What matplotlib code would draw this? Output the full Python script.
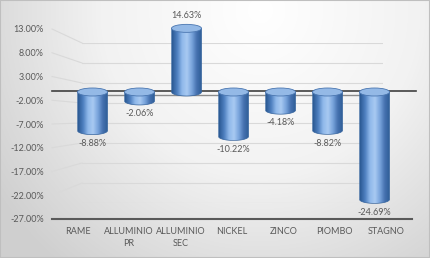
import numpy as np
import matplotlib.pyplot as plt
from matplotlib.patches import Ellipse, PathPatch, Rectangle
from matplotlib.path import Path
from matplotlib.colors import LinearSegmentedColormap

plt.rcParams['font.family'] = ['Lato', 'DejaVu Sans']

categories = ["RAME", "ALLUMINIO\nPR", "ALLUMINIO\nSEC", "NICKEL", "ZINCO", "PIOMBO", "STAGNO"]
values = [-8.88, -2.06, 14.63, -10.22, -4.18, -8.82, -24.69]
ticks = [13, 8, 3, -2, -7, -12, -17, -22, -27]

W, H = 430, 258
TXT = '#595959'
FS = 6.5
fig = plt.figure(figsize=(W / 100, H / 100), dpi=100)


def box(x0, y0, x1, y1):
    # pixel box (top-down y) -> figure fraction rect
    return [x0 / W, 1 - y1 / H, (x1 - x0) / W, (y1 - y0) / H]


# background gradient
bg = fig.add_axes([0, 0, 1, 1])
yy, xx = np.mgrid[0:H, 0:W]
r = np.hypot((xx - 260) / 320, (yy - 10) / 330)
bg_cmap = LinearSegmentedColormap.from_list('bg', ['#ffffff', '#f2f2f2', '#cfcfcf'])
bg.imshow(r, cmap=bg_cmap, vmin=0, vmax=1, aspect='auto')
bg.axis('off')
fig.patches.append(Rectangle((0, 0), 1, 1, transform=fig.transFigure, fill=False,
                             edgecolor='#bfbfbf', lw=1.5))

# back wall gridlines
back = fig.add_axes(box(82, 43, 383, 203))
back.set_xlim(0, 1)
back.set_ylim(-27, 13)
back.axis('off')
for t in ticks:
    back.axhline(t, color='#d9d9d9', lw=0.8)
back.axhline(0, color='#8c8c8c', lw=1.0)

# front plane: axis labels, floor, zero line
front = fig.add_axes(box(52, 29, 412, 219))
front.patch.set_visible(False)
front.set_xlim(-0.5, 6.5)
front.set_ylim(-27, 13)
front.set_yticks(ticks)
front.set_yticklabels([f"{t:.2f}%" for t in ticks])
front.set_xticks(range(len(categories)))
front.set_xticklabels(categories, linespacing=1.45)
front.tick_params(length=0, labelsize=FS, labelcolor=TXT, pad=6)
front.tick_params(axis='x', pad=6)
for s in ['top', 'right', 'left']:
    front.spines[s].set_visible(False)
front.spines['bottom'].set_color('#595959')
front.spines['bottom'].set_linewidth(1.5)
front.axhline(0, color='#404040', lw=1.2, xmax=1.01, clip_on=False)

# perspective connectors between front plane and back wall (drawn under everything)
inv = bg.transData.inverted()
for t in ticks[:-1]:
    p0 = inv.transform(front.transData.transform((-0.5, t)))
    p1 = inv.transform(back.transData.transform((0, t)))
    bg.plot([p0[0], p1[0]], [p0[1], p1[1]], color='#d9d9d9', lw=0.8)
bg.set_xlim(-0.5, W - 0.5)
bg.set_ylim(H - 0.5, -0.5)

# cylinders
ax = fig.add_axes([0, 0, 1, 1])
ax.patch.set_visible(False)
ax.axis('off')
px_x, zero_x = 47.0, 92.5
px_y, zero_y = 4.35, 92.0
w = 15 / px_x
e = 4 / px_y
body_cmap = LinearSegmentedColormap.from_list(
    'cyl', ['#2b5a94', '#4f80c0', '#8fb8ea', '#a9caf2', '#79a4dc', '#4672b0', '#2e5d96'])
grad = np.linspace(0, 1, 64).reshape(1, -1)

for i, v in enumerate(values):
    top, bot = max(v, 0), min(v, 0)
    th = np.linspace(np.pi, 2 * np.pi, 40)
    xs = np.concatenate([[i - w], i + w * np.cos(th), [i + w]])
    ys = np.concatenate([[top], bot + e * np.sin(th), [top]])
    verts = np.column_stack([xs, ys])
    verts = np.vstack([verts, verts[:1]])
    codes = [Path.MOVETO] + [Path.LINETO] * (len(verts) - 2) + [Path.CLOSEPOLY]
    body = PathPatch(Path(verts, codes), facecolor='none', edgecolor='#35649e', lw=0.5, zorder=3)
    ax.add_patch(body)
    im = ax.imshow(grad, cmap=body_cmap, aspect='auto', extent=(i - w, i + w, bot - e, top),
                   zorder=2)
    im.set_clip_path(body)
    ax.add_patch(Ellipse((i, top), 2 * w, 2 * e, facecolor='#94b9e6', edgecolor='#4a76b0',
                         lw=0.6, zorder=4))
    if v < 0:
        ax.annotate(f"{v:.2f}%", (i, v - e), xytext=(0, -3), textcoords='offset points',
                    ha='center', va='top', fontsize=FS, color=TXT)
    else:
        ax.annotate(f"{v:.2f}%", (i, v + e), xytext=(0, 3), textcoords='offset points',
                    ha='center', va='bottom', fontsize=FS, color=TXT)

ax.set_xlim(-zero_x / px_x, (W - zero_x) / px_x)
ax.set_ylim((zero_y - H) / px_y, zero_y / px_y)

fig.savefig('out.png', dpi=100)
